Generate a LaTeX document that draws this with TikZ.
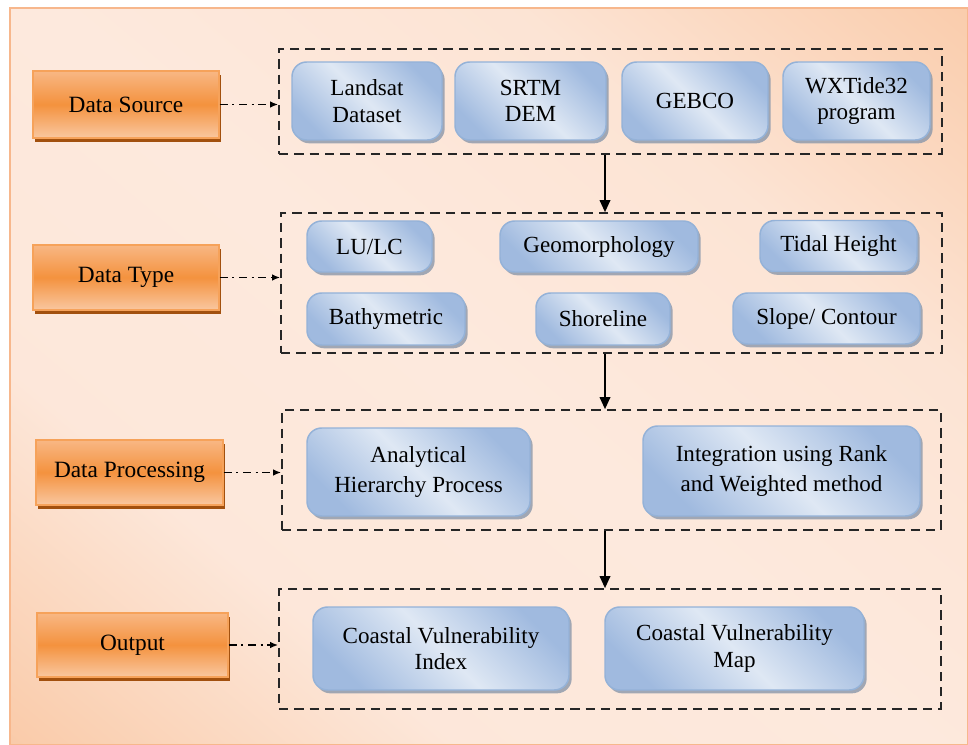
\documentclass[tikz,border=0pt]{standalone}
\usepackage{fontspec}
\setmainfont{Liberation Serif}
\usetikzlibrary{shadows,arrows.meta}
\definecolor{bgL}{HTML}{FDE9DD}
\definecolor{bgO}{HTML}{F8BF95}
\definecolor{bgBorder}{HTML}{F7B78C}
\definecolor{orT}{HTML}{F8B784}
\definecolor{orM}{HTML}{F4923E}
\definecolor{orB}{HTML}{F9C7A0}
\definecolor{orBorder}{HTML}{F6A25A}
\definecolor{orShadow}{HTML}{A2500E}
\definecolor{blL}{HTML}{DFE8F4}
\definecolor{blD}{HTML}{A0BADF}
\definecolor{blBorder}{HTML}{94B2D8}
\definecolor{blShadow}{HTML}{8A97AA}
\pgfdeclarehorizontalshading{bgshade}{100bp}{color(0bp)=(bgO); color(14bp)=(bgO!75!bgL); color(32bp)=(bgL!96!bgO); color(50bp)=(bgL); color(68bp)=(bgL!88!bgO); color(86bp)=(bgO!70!bgL); color(100bp)=(bgO)}
\begin{document}
\begin{tikzpicture}[x=0.75pt,y=-0.75pt,
  catbox/.style={draw=orBorder, line width=1.1pt, top color=orT, bottom color=orB, middle color=orM,
    drop shadow={shadow xshift=1.6pt, shadow yshift=-3pt, fill=orShadow, opacity=1},
    font=\fontsize{17.5}{21}\selectfont, inner sep=0pt},
  itembox/.style={draw=blBorder, line width=1.1pt, rounded corners=11pt,
    left color=blD, right color=blD, middle color=blL, shading angle=-45,
    drop shadow={shadow xshift=2pt, shadow yshift=-2.5pt, fill=blShadow, opacity=0.8},
    align=center, font=\fontsize{17.3}{20}\selectfont, inner sep=0pt},
  grp/.style={draw=black!85, line width=1.3pt, dash pattern=on 7pt off 4.5pt, inner sep=0pt},
  ddarrow/.style={draw=black, line width=1.3pt, dash pattern=on 6pt off 3.5pt on 1.5pt off 3.5pt,
    -{Latex[length=6pt,width=5pt]}},
  downarrow/.style={draw=black, line width=1.1pt, -{Triangle[length=9pt,width=8pt]}}]
\useasboundingbox (0,0) rectangle (968,745);
\fill[white] (0,0) rectangle (968,745);
\draw[draw=bgBorder, line width=1.2pt, shading=bgshade, shading angle=50]
  (10,8) rectangle (968,745);

% groups
\node[grp, minimum width=497.25pt, minimum height=78.75pt] (c1) at (610.5,101.5) {};
\node[grp, minimum width=495.75pt, minimum height=105pt] (c2) at (611.5,283) {};
\node[grp, minimum width=494.25pt, minimum height=90pt] (c3) at (611.5,470) {};
\node[grp, minimum width=496.5pt, minimum height=90pt] (c4) at (610,649) {};

% category boxes
\node[catbox, minimum width=139.5pt, minimum height=50.25pt] (ds) at (126,104.5) {Data Source};
\node[catbox, minimum width=139.5pt, minimum height=48.75pt] (dt) at (126,277.5) {Data Type};
\node[catbox, minimum width=140.25pt, minimum height=48.75pt] (dp) at (129.5,472.5) {Data Processing};
\node[catbox, minimum width=143.25pt, minimum height=48pt] (out) at (132.5,645) {Output};

% items
\node[itembox, minimum width=112.5pt, minimum height=58.5pt] (landsat) at (367,101) {Landsat\\Dataset};
\node[itembox, minimum width=113.25pt, minimum height=58.5pt] (srtm) at (530.5,101) {SRTM\\DEM};
\node[itembox, minimum width=109.5pt, minimum height=58.5pt] (gebco) at (695,101) {GEBCO};
\node[itembox, minimum width=110.25pt, minimum height=58.5pt] (wxt) at (856.5,101) {WXTide32\\program};

\node[itembox, minimum width=93.75pt, minimum height=38.25pt] (lulc) at (369.5,246.5) {LU/LC};
\node[itembox, minimum width=148.5pt, minimum height=38.25pt] (geo) at (599,246.5) {Geomorphology};
\node[itembox, minimum width=117.75pt, minimum height=38.25pt] (tidal) at (838.5,246) {Tidal Height};
\node[itembox, minimum width=118.5pt, minimum height=39pt] (bathy) at (386,319) {Bathymetric};
\node[itembox, minimum width=100.5pt, minimum height=39pt] (shore) at (603,319) {Shoreline};
\node[itembox, minimum width=140.25pt, minimum height=38.25pt] (slope) at (826.5,318.5) {Slope/ Contour};

\node[itembox, minimum width=167.25pt, minimum height=66pt, font=\fontsize{17.3}{22.5}\selectfont] (ahp) at (418.5,472) {Analytical\\Hierarchy Process};
\node[itembox, minimum width=207.75pt, minimum height=67.5pt, font=\fontsize{17.3}{22.5}\selectfont] (integ) at (781.5,471) {Integration using Rank\\and Weighted method};

\node[itembox, minimum width=192pt, minimum height=62.25pt] (cvi) at (441,648.5) {Coastal Vulnerability\\Index};
\node[itembox, minimum width=194.25pt, minimum height=62.25pt] (cvm) at (734.5,648.5) {Coastal Vulnerability\\Map};

% connectors
\draw[ddarrow] (ds.east) -- (c1.west |- ds.east);
\draw[ddarrow] (dt.east) -- (c2.west |- dt.east);
\draw[ddarrow] (dp.east) -- (c3.west |- dp.east);
\draw[ddarrow] (out.east) -- (c4.west |- out.east);

\coordinate (ax) at (605,0);
\draw[downarrow] (c1.south -| ax) -- (c2.north -| ax);
\draw[downarrow] (c2.south -| ax) -- (c3.north -| ax);
\draw[downarrow] (c3.south -| ax) -- (c4.north -| ax);
\end{tikzpicture}
\end{document}
